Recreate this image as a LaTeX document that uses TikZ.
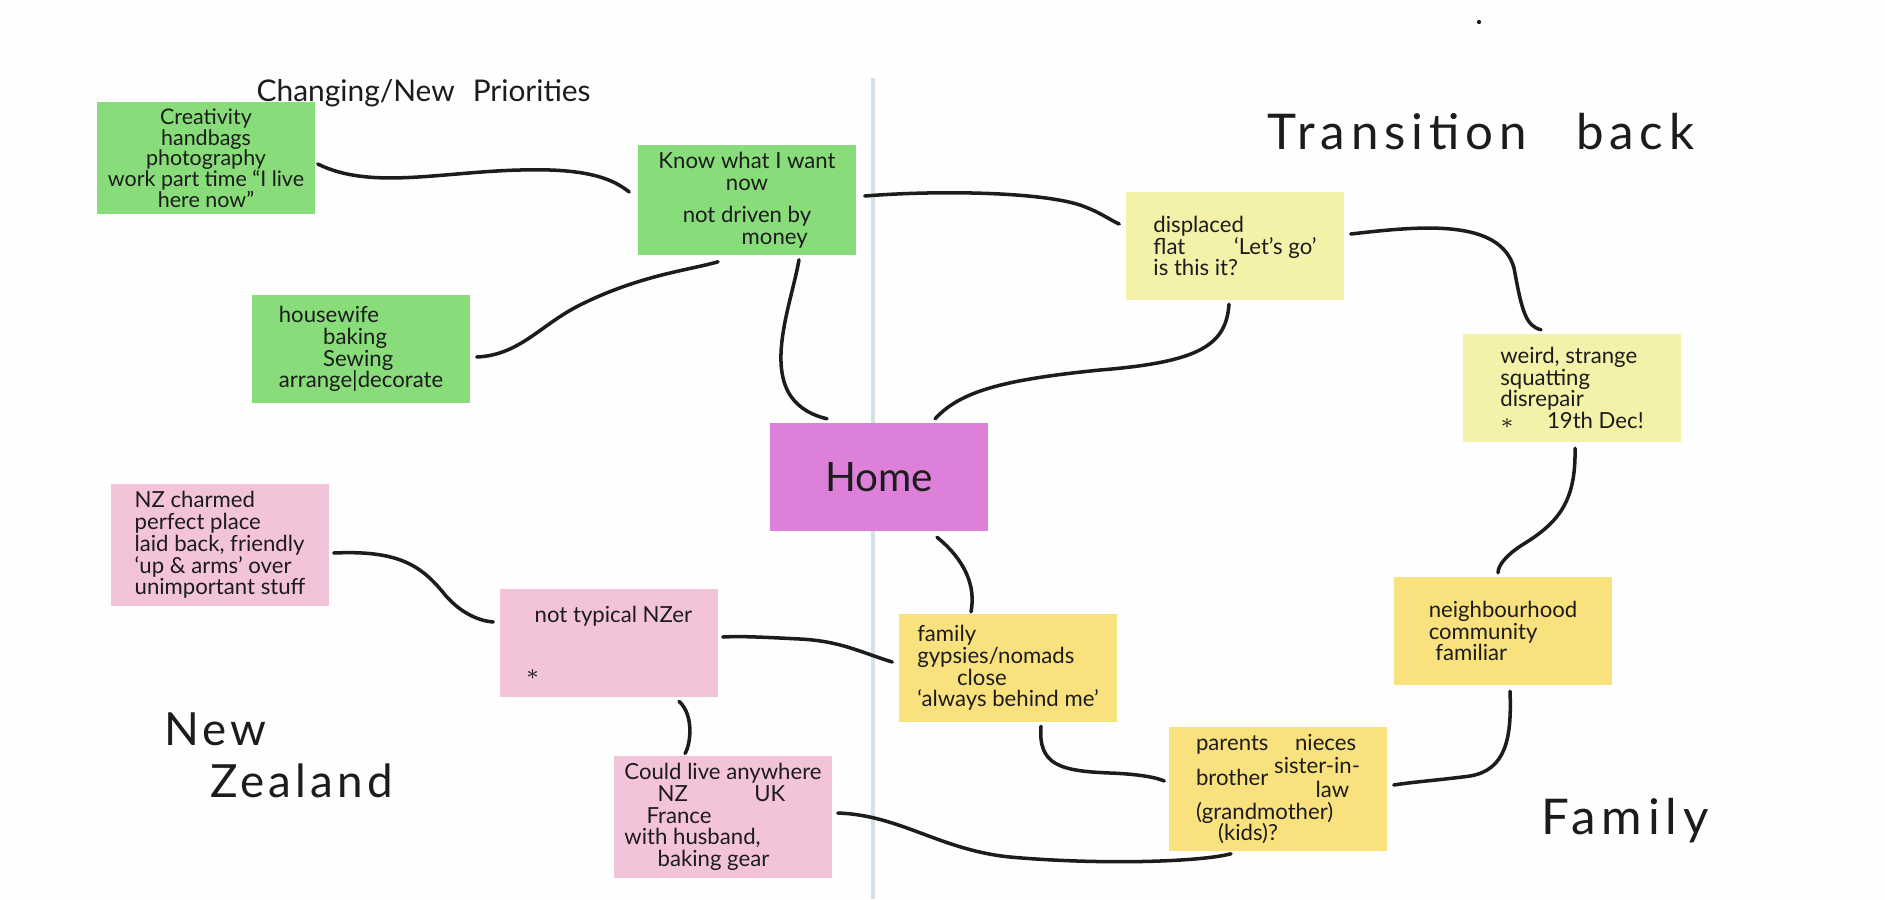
\documentclass[tikz,border=0pt]{standalone}
\usepackage{fontspec}
\setmainfont{Lato}
\usepackage{tikz}
\usetikzlibrary{calc}
\definecolor{paper}{HTML}{FDFEFD}
\definecolor{ink}{HTML}{1C1C1C}
\definecolor{fold}{HTML}{D3E1EA}
\definecolor{green}{HTML}{88DD7A}
\definecolor{lemon}{HTML}{F4F1A8}
\definecolor{butter}{HTML}{F9E27E}
\definecolor{pink}{HTML}{F3C3D9}
\definecolor{orchid}{HTML}{DC80DA}
\tikzset{
  note/.style={rectangle, minimum width=2.18cm, minimum height=1.07cm, inner sep=2pt,
    text=ink, font=\fontsize{6.3}{6.2}\selectfont, align=left},
  link/.style={draw=ink, line width=1pt, line cap=round},
  head/.style={text=ink, font=\fontsize{8.5}{10}\selectfont},
  title/.style={text=ink, font=\fontsize{14}{15}\selectfont\addfontfeature{LetterSpace=12}}
}

\begin{document}
\begin{tikzpicture}[x=0.01cm, y=-0.01cm]
  \fill[paper] (0,0) rectangle (1885,899);
  \useasboundingbox (0,0) rectangle (1885,899);
  % fold of the page
  \draw[fold, line width=1pt] (873,78) -- (873,899);
  \fill[ink] (1479,22) circle (0.6pt);

  \node[head, anchor=base west, inner sep=0pt] (prio) at (256,101) {Changing/New\hspace{0.6em}Priorities};
  \node[title] (trans) at (1481,132) {Transition\hspace{1em}back};
  \node[title, font=\fontsize{13}{15}\selectfont\addfontfeature{LetterSpace=9},
    align=left, anchor=north west] (nz) at (152,700) {New\\\hspace*{13pt}Zealand};
  \node[title] (famt) at (1625,821) {Family};

  % notes
  \node[note, fill=green, align=center, font=\fontsize{6.1}{5.9}\selectfont] (cre) at (206,158)
    {Creativity\\handbags\\photography\\work part time ``I live\\here now''};
  \node[note, fill=green, align=center] (know) at (747,200)
    {Know what I want\\now\\[3pt]not driven by\\\hspace*{2.5em}money};
  \node[note, fill=green] (house) at (361,349)
    {housewife\\\hspace*{2em}baking\\\hspace*{2em}Sewing\\arrange|decorate};
  \node[note, fill=orchid, font=\fontsize{11.5}{14}\selectfont] (home) at (879,477) {Home};
  \node[note, fill=lemon] (disp) at (1235,246)
    {displaced\\flat\hspace{2.2em}`Let's go'\\is this it?};
  \node[note, fill=lemon] (weird) at (1572,388)
    {weird, strange\\squatting\\disrepair\\$\ast$\hspace{1.5em}19th Dec!};
  \node[note, fill=pink] (nzc) at (220,545)
    {NZ charmed\\perfect place\\laid back, friendly\\`up \& arms' over\\unimportant stuff};
  \node[note, fill=pink] (nzer) at (609,643)
    {\hspace*{0.4em}not typical NZer\\[10pt]$\ast$};
  \node[note, fill=butter] (fam) at (1008,668)
    {family\\gypsies/nomads\\\hspace*{1.8em}close\\`always behind me'};
  \node[note, fill=butter] (nbh) at (1503,631)
    {neighbourhood\\community\\\hspace*{0.3em}familiar};
  \node[note, fill=butter] (par) at (1278,789)
    {parents\hspace{1.2em}nieces\\brother \raisebox{3.5pt}{sister-in-}\\[-3pt]\hspace*{5.4em}law\\(grandmother)\\\hspace*{1em}(kids)?};
  \node[note, fill=pink] (could) at (723,817)
    {Could live anywhere\\\hspace*{1.5em}NZ\hspace{3em}UK\\\hspace*{1em}France\\with husband,\\\hspace*{1.5em}baking gear};

  % hand drawn links
  \draw[link] ($(cre.east)+(2,6)$) .. controls (370,190) and (440,172) .. (520,170)
    .. controls (585,168) and (612,178) .. ($(know.west)+(-8,-8)$);
  \draw[link] ($(house.east)+(6,8)$) .. controls (520,355) and (540,325) .. (580,305)
    .. controls (640,275) and (690,270) .. ($(know.south)+(-29,6)$);
  \draw[link] ($(know.south)+(52,4)$) .. controls (792,300) and (768,360) .. (790,395)
    .. controls (800,410) and (815,416) .. ($(home.north)+(-52,-4)$);
  \draw[link] ($(know.east)+(8,-4)$) .. controls (940,190) and (1040,192) .. (1080,205)
    .. controls (1100,212) and (1110,220) .. ($(disp.west)+(-6,-22)$);
  \draw[link] ($(disp.south)+(-6,4)$) .. controls (1226,345) and (1200,362) .. (1100,370)
    .. controls (1000,380) and (960,392) .. ($(home.north)+(56,-4)$);
  \draw[link] ($(disp.east)+(6,-12)$) .. controls (1420,226) and (1500,218) .. (1514,268)
    .. controls (1522,312) and (1526,326) .. ($(weird.north)+(-31,-4)$);
  \draw[link] ($(weird.south)+(3,6)$) .. controls (1576,500) and (1560,522) .. (1522,545)
    .. controls (1505,556) and (1498,566) .. ($(nbh.north)+(-5,-4)$);
  \draw[link] ($(nbh.south)+(7,6)$) .. controls (1512,740) and (1505,770) .. (1470,776)
    .. controls (1440,780) and (1412,782) .. ($(par.east)+(6,-4)$);
  \draw[link] ($(home.south)+(58,6)$) .. controls (965,560) and (976,586) .. ($(fam.north)+(-37,-2)$);
  \draw[link] ($(fam.west)+(-6,-6)$) .. controls (860,652) and (840,641) .. (800,639)
    .. controls (760,637) and (740,636) .. ($(nzer.east)+(4,-6)$);
  \draw[link] ($(nzc.east)+(4,8)$) .. controls (400,550) and (422,566) .. (446,596)
    .. controls (462,614) and (480,621) .. ($(nzer.west)+(-6,-21)$);
  \draw[link] ($(nzer.south)+(70,4)$) .. controls (695,716) and (690,746) .. ($(could.north)+(-38,-2)$);
  \draw[link] ($(fam.south)+(33,4)$) .. controls (1038,765) and (1060,771) .. (1110,773)
    .. controls (1140,774) and (1158,778) .. ($(par.west)+(-4,-8)$);
  \draw[link] ($(could.east)+(5,-4)$) .. controls (900,815) and (940,850) .. (1010,857)
    .. controls (1100,865) and (1200,862) .. ($(par.south)+(-47,2)$);
\end{tikzpicture}
\end{document}
